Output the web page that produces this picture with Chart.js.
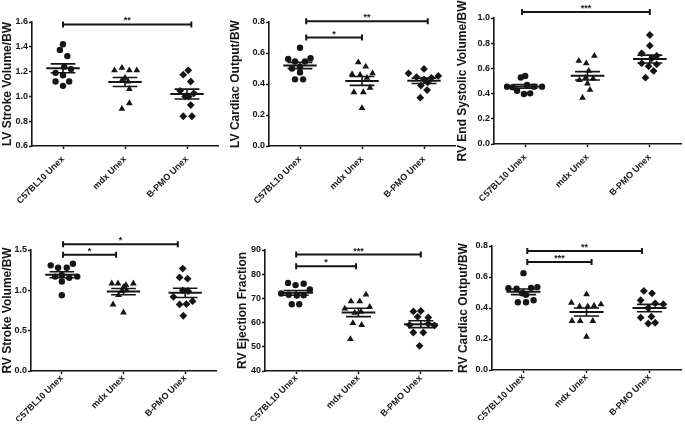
<!DOCTYPE html>
<html>
<head>
<meta charset="utf-8">
<script src="https://cdn.jsdelivr.net/npm/chart.js@4"></script>
<style>
html, body { margin: 0; padding: 0; background: #fff; }
#wrap { position: relative; width: 685px; height: 428px; overflow: hidden; }
#wrap canvas { position: absolute; left: 0; top: 0; }
</style>
</head>
<body>
<div id="wrap"></div>
<script>
const groups = ['C57BL10 Unex', 'mdx Unex', 'B-PMO Unex'];

// LV stroke volume / BW
const lvsvC57 = [1.42, 1.375, 1.325, 1.24, 1.22, 1.19, 1.17, 1.12, 1.12, 1.085];
const lvsvC57X = [0.0, -0.05, 0.07, 0.02, 0.13, -0.12, 0.0, -0.12, 0.1, 0.0];
const lvsvMdx = [1.21, 1.23, 1.21, 1.21, 1.15, 1.13, 1.12, 1.06, 0.945, 0.90];
const lvsvMdxX = [-0.17, -0.05, 0.07, 0.19, 0.0, -0.05, 0.05, 0.07, 0.07, -0.05];
const lvsvPmo = [1.21, 1.175, 1.12, 1.045, 1.025, 1.0, 1.0, 0.93, 0.84, 0.84];
const lvsvPmoX = [0.02, -0.06, 0.06, -0.11, 0.11, -0.03, 0.03, 0.06, -0.06, 0.08];
const lvsvBrackets = [[0, 2.07, 1.58, '**']];

// LV cardiac output / BW
const lvcoC57 = [0.634, 0.561, 0.566, 0.545, 0.545, 0.51, 0.50, 0.475, 0.43, 0.43];
const lvcoC57X = [0.0, -0.19, 0.17, -0.08, 0.08, 0.0, -0.13, 0.0, -0.08, 0.05];
const lvcoMdx = [0.54, 0.512, 0.463, 0.469, 0.458, 0.44, 0.376, 0.347, 0.347, 0.245];
const lvcoMdxX = [-0.06, 0.06, -0.16, 0.17, -0.03, 0.08, 0.13, -0.13, 0.02, 0.0];
const lvcoPmo = [0.497, 0.469, 0.452, 0.445, 0.44, 0.43, 0.41, 0.39, 0.361, 0.312];
const lvcoPmoX = [0.0, -0.25, 0.23, -0.12, 0.12, 0.0, 0.06, -0.05, 0.05, -0.06];
const lvcoBrackets = [[0.1, 1.0, 0.70, '*'], [0.1, 2.06, 0.805, '**']];

// RV end systolic volume / BW
const rvesC57 = [0.528, 0.54, 0.455, 0.468, 0.455, 0.455, 0.45, 0.423, 0.397, 0.402];
const rvesC57X = [-0.07, 0.0, -0.29, 0.03, 0.14, 0.27, -0.2, -0.13, -0.02, 0.08];
const rvesMdx = [0.70, 0.66, 0.64, 0.58, 0.526, 0.52, 0.508, 0.48, 0.43, 0.367];
const rvesMdxX = [0.11, -0.14, -0.02, 0.02, -0.03, 0.09, -0.13, 0.0, 0.04, -0.08];
const rvesPmo = [0.865, 0.78, 0.72, 0.70, 0.68, 0.64, 0.632, 0.617, 0.58, 0.526];
const rvesPmoX = [0.0, 0.0, -0.13, 0.11, 0.03, -0.13, 0.11, -0.02, 0.06, -0.07];
const rvesBrackets = [[-0.05, 2.0, 1.048, '***']];

// RV stroke volume / BW
const rvsvC57 = [1.31, 1.28, 1.28, 1.33, 1.17, 1.19, 1.155, 1.17, 1.11, 0.94];
const rvsvC57X = [-0.18, -0.06, 0.08, 0.18, -0.11, 0.0, 0.12, 0.25, 0.0, 0.0];
const rvsvMdx = [1.085, 1.085, 1.065, 1.085, 1.04, 1.0, 0.99, 0.94, 0.825, 0.725];
const rvsvMdxX = [-0.19, -0.09, 0.04, 0.16, 0.0, 0.05, -0.03, -0.08, -0.17, 0.0];
const rvsvPmo = [1.27, 1.16, 1.145, 1.0, 0.99, 0.92, 0.865, 0.825, 0.83, 0.685];
const rvsvPmoX = [-0.04, -0.09, 0.04, -0.04, 0.05, -0.19, 0.12, -0.09, 0.02, -0.03];
const rvsvBrackets = [[0.02, 0.88, 1.44, '*'], [0.02, 1.88, 1.57, '*']];

// RV ejection fraction
const rvefC57 = [76.4, 75.5, 76.1, 72.0, 73.7, 71.5, 71.2, 71.3, 67.6, 67.6];
const rvefC57X = [-0.13, -0.01, 0.12, -0.24, 0.22, -0.12, 0.01, 0.12, -0.07, 0.05];
const rvefMdx = [71.6, 68.8, 68.8, 65.8, 66.5, 64.0, 64.5, 59.8, 59.0, 53.2];
const rvefMdxX = [0.12, -0.12, 0.02, -0.22, 0.18, -0.06, 0.04, -0.09, 0.05, -0.13];
const rvefPmo = [64.6, 64.8, 62.4, 62.1, 58.8, 59.0, 59.5, 55.9, 55.9, 50.4];
const rvefPmoX = [-0.12, 0.0, -0.05, 0.12, 0.22, -0.18, 0.12, -0.12, 0.04, -0.02];
const rvefBrackets = [[0, 0.96, 83.3, '*'], [0, 2.0, 88.1, '***']];

// RV cardiac output / BW
const rvcoC57 = [0.625, 0.527, 0.525, 0.53, 0.535, 0.495, 0.485, 0.437, 0.437, 0.45];
const rvcoC57X = [0.0, -0.24, -0.11, 0.12, 0.22, -0.02, 0.04, -0.09, 0.04, 0.16];
const rvcoMdx = [0.488, 0.434, 0.41, 0.41, 0.415, 0.424, 0.316, 0.316, 0.316, 0.215];
const rvcoMdxX = [0.0, -0.24, -0.11, 0.02, 0.12, 0.23, -0.23, -0.1, 0.1, 0.0];
const rvcoPmo = [0.51, 0.495, 0.45, 0.43, 0.425, 0.40, 0.338, 0.344, 0.30, 0.305];
const rvcoPmoX = [-0.09, 0.04, -0.14, 0.09, 0.22, -0.02, -0.14, 0.03, -0.02, 0.09];
const rvcoBrackets = [[0.06, 1.08, 0.697, '***'], [0.06, 1.88, 0.768, '**']];

const panels = [
  { title: 'LV Stroke Volume/BW', vals: [lvsvC57, lvsvMdx, lvsvPmo], jit: [lvsvC57X, lvsvMdxX, lvsvPmoX],
    brackets: lvsvBrackets, min: 0.6, max: 1.6, step: 0.2, dec: 1, area: [32, 22, 218, 146], yw: 32, xh: 60, lp: 5 },
  { title: 'LV Cardiac Output/BW', vals: [lvcoC57, lvcoMdx, lvcoPmo], jit: [lvcoC57X, lvcoMdxX, lvcoPmoX],
    brackets: lvcoBrackets, min: 0, max: 0.8, step: 0.2, dec: 1, area: [269, 22, 455, 146], yw: 41, xh: 60, lp: 5 },
  { title: 'RV End Systolic Volume/BW', vals: [rvesC57, rvesMdx, rvesPmo], jit: [rvesC57X, rvesMdxX, rvesPmoX],
    brackets: rvesBrackets, min: 0, max: 1.0, step: 0.2, dec: 1, area: [494, 18, 685, 144], yw: 39, xh: 60, lp: 5 },
  { title: 'RV Stroke Volume/BW', vals: [rvsvC57, rvsvMdx, rvsvPmo], jit: [rvsvC57X, rvsvMdxX, rvsvPmoX],
    brackets: rvsvBrackets, min: 0, max: 1.5, step: 0.5, dec: 1, area: [31, 250, 216, 371], yw: 31, xh: 50, lp: -1 },
  { title: 'RV Ejection Fraction', vals: [rvefC57, rvefMdx, rvefPmo], jit: [rvefC57X, rvefMdxX, rvefPmoX],
    brackets: rvefBrackets, min: 40, max: 90, step: 10, dec: 0, area: [265, 250, 452, 371], yw: 30, xh: 50, lp: -1 },
  { title: 'RV Cardiac Output/BW', vals: [rvcoC57, rvcoMdx, rvcoPmo], jit: [rvcoC57X, rvcoMdxX, rvcoPmoX],
    brackets: rvcoBrackets, min: 0, max: 0.8, step: 0.2, dec: 1, area: [492, 246, 685, 370], yw: 36, xh: 50, lp: -1 }
];

const W = 685, H = 428;
const ink = '#151515';
const shapes = ['circle', 'triangle', 'rectRot'];
const radii = [3.2, 3.9, 3.9];
const fontFam = '"Liberation Sans", Arial, sans-serif';

function mean(a) { return a.reduce((s, v) => s + v, 0) / a.length; }
function sem(a) {
  const m = mean(a);
  const sd = Math.sqrt(a.reduce((s, v) => s + (v - m) * (v - m), 0) / (a.length - 1));
  return sd / Math.sqrt(a.length);
}

const wrap = document.getElementById('wrap');

panels.forEach(p => {
  const cv = document.createElement('canvas');
  cv.width = W; cv.height = H;
  wrap.appendChild(cv);
  const [l, t, r, b] = p.area;

  const statsPlugin = {
    id: 'stats',
    afterDatasetsDraw(chart) {
      const ctx = chart.ctx, xs = chart.scales.x, ys = chart.scales.y;
      const px = v => xs.getPixelForValue(v), py = v => ys.getPixelForValue(v);
      ctx.save();
      ctx.strokeStyle = ink;
      ctx.fillStyle = ink;
      p.vals.forEach((vals, i) => {
        const m = mean(vals), e = sem(vals);
        ctx.lineWidth = 2;
        ctx.beginPath();
        ctx.moveTo(px(i - 0.27), py(m));
        ctx.lineTo(px(i + 0.27), py(m));
        ctx.stroke();
        ctx.lineWidth = 1.6;
        ctx.beginPath();
        ctx.moveTo(px(i), py(m + e)); ctx.lineTo(px(i), py(m - e));
        ctx.moveTo(px(i - 0.2), py(m + e)); ctx.lineTo(px(i + 0.2), py(m + e));
        ctx.moveTo(px(i - 0.2), py(m - e)); ctx.lineTo(px(i + 0.2), py(m - e));
        ctx.stroke();
      });
      p.brackets.forEach(([a, c, y, lab]) => {
        const yy = py(y), xa = px(a), xc = px(c);
        ctx.lineWidth = 2;
        ctx.beginPath();
        ctx.moveTo(xa, yy); ctx.lineTo(xc, yy);
        ctx.moveTo(xa, yy - 3); ctx.lineTo(xa, yy + 3);
        ctx.moveTo(xc, yy - 3); ctx.lineTo(xc, yy + 3);
        ctx.stroke();
        ctx.font = 'bold 9px ' + fontFam;
        ctx.textAlign = 'center';
        ctx.textBaseline = 'alphabetic';
        ctx.fillText(lab, (xa + xc) / 2, yy - 1);
      });
      ctx.restore();
    }
  };

  new Chart(cv, {
    type: 'scatter',
    data: {
      datasets: p.vals.map((vals, i) => ({
        data: vals.map((v, k) => ({ x: i + p.jit[i][k], y: v })),
        pointStyle: shapes[i],
        pointRadius: radii[i],
        backgroundColor: ink,
        borderColor: ink,
        borderWidth: 0
      }))
    },
    options: {
      responsive: false,
      animation: false,
      devicePixelRatio: 1,
      events: [],
      layout: { padding: { left: l - p.yw, top: t, right: W - r, bottom: H - b - p.xh } },
      plugins: { legend: { display: false }, tooltip: { enabled: false } },
      scales: {
        x: {
          type: 'linear',
          min: -0.5, max: 2.5,
          afterBuildTicks: s => { s.ticks = [0, 1, 2].map(v => ({ value: v })); },
          afterFit: s => { s.height = p.xh; },
          grid: { drawOnChartArea: false, color: ink, tickLength: 3, tickWidth: 1.5 },
          border: { color: ink, width: 1.6 },
          ticks: {
            autoSkip: false, minRotation: 45, maxRotation: 45, padding: p.lp,
            color: ink, font: { family: fontFam, size: 9, weight: 'bold' },
            callback: v => groups[v]
          }
        },
        y: {
          min: p.min, max: p.max,
          afterFit: s => { s.width = p.yw; },
          grid: { drawOnChartArea: false, color: ink, tickLength: 3, tickWidth: 1.5 },
          border: { color: ink, width: 1.6 },
          ticks: {
            stepSize: p.step, padding: 1, color: ink,
            font: { family: fontFam, size: 9, weight: 'bold' },
            callback: v => v.toFixed(p.dec)
          },
          title: {
            display: true, text: p.title, color: ink, padding: 0,
            font: { family: fontFam, size: 12, weight: 'bold' }
          }
        }
      }
    },
    plugins: [statsPlugin]
  });
});
</script>
</body>
</html>
